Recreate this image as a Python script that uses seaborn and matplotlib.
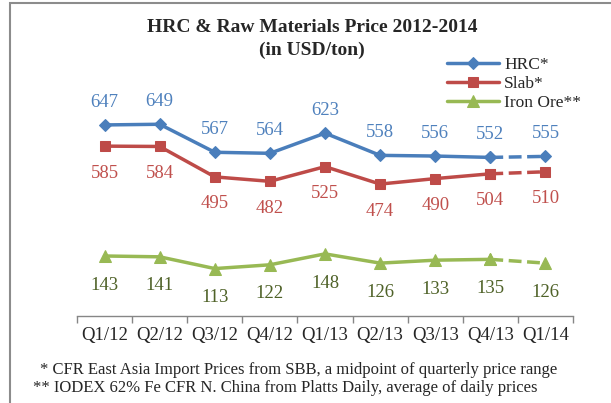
import pandas as pd
import matplotlib.pyplot as plt
import seaborn as sns
from matplotlib.patches import Rectangle

# quarterly prices, USD/ton
quarters = ["Q1/12", "Q2/12", "Q3/12", "Q4/12", "Q1/13", "Q2/13", "Q3/13", "Q4/13", "Q1/14"]
hrc = [647, 649, 567, 564, 623, 558, 556, 552, 555]
slab = [585, 584, 495, 482, 525, 474, 490, 504, 510]
iron_ore = [143, 141, 113, 122, 148, 126, 133, 135, 126]

sns.set_style("white")
plt.rcParams["font.family"] = ["Liberation Serif", "DejaVu Serif"]

df = pd.DataFrame({"x": range(len(quarters)), "Quarter": quarters,
                   "HRC*": hrc, "Slab*": slab, "Iron Ore**": iron_ore})

W, H = 611, 403
fig = plt.figure(figsize=(W / 100, H / 100), dpi=100)
ax = fig.add_axes([77 / W, 1 - 316 / H, 496 / W, 256 / H])
ax2 = ax.twinx()

# (column, axis, line colour, label colour, marker, marker size, label offset)
series = [
    ("HRC*", ax, "#4A7EBB", "#4F81BD", "D", 6.5, 16.5),
    ("Slab*", ax, "#BE4B48", "#C0504D", "s", 6.5, -19.5),
    ("Iron Ore**", ax2, "#98B954", "#4F6228", "^", 8, -21),
]

handles = []
for col, a, c, lc, m, ms, off in series:
    sns.lineplot(data=df.iloc[:8], x="x", y=col, ax=a, color=c, marker=m,
                 markersize=ms, markeredgecolor=c, linewidth=2.5, legend=False)
    handles.append(a.lines[-1])
    sns.lineplot(data=df.iloc[7:], x="x", y=col, ax=a, color=c, marker=m,
                 markersize=ms, markeredgecolor=c, linewidth=2.5,
                 linestyle="--", legend=False)
    for i, v in enumerate(df[col]):
        a.annotate(str(v), (i, v), xytext=(0, off), textcoords="offset points",
                   ha="center", va="center", color=lc, fontsize=13.5)

ax.set_ylim(88, 837)
ax2.set_ylim(0, 610)
ax.set_xlim(-0.5, 8.5)
ax.set_xticks(range(len(quarters)))
ax.set_xticklabels(quarters, fontsize=13.5)
ax.set_xticks([i - 0.5 for i in range(len(quarters) + 1)], minor=True)
ax.tick_params(axis="x", which="major", length=0, pad=8)
ax.tick_params(axis="x", which="minor", bottom=True, length=5, width=1,
               color="#868686", direction="out")
for a in (ax, ax2):
    a.set_yticks([])
    a.set_xlabel("")
    a.set_ylabel("")
    for s in ("top", "left", "right"):
        a.spines[s].set_visible(False)
ax.spines["bottom"].set_color("#868686")
ax.spines["bottom"].set_linewidth(1)
ax2.spines["bottom"].set_visible(False)

fig.legend(handles, ["HRC*", "Slab*", "Iron Ore**"], loc="upper left",
           bbox_to_anchor=(447 / W, 1 - 57 / H), frameon=False, fontsize=12.5,
           handlelength=3.0, handletextpad=0.3, labelspacing=0.15,
           borderpad=0, borderaxespad=0)

fig.text(312 / W, 1 - 27 / H, "HRC & Raw Materials Price 2012-2014",
         ha="center", va="center", fontsize=14, fontweight="bold")
fig.text(312 / W, 1 - 50 / H, "(in USD/ton)", ha="center", va="center",
         fontsize=14, fontweight="bold")

fig.text(40 / W, 1 - 370 / H,
         "* CFR East Asia Import Prices from SBB, a midpoint of quarterly price range",
         ha="left", va="center", fontsize=12)
fig.text(33 / W, 1 - 388 / H,
         "** IODEX 62% Fe CFR N. China from Platts Daily, average of daily prices",
         ha="left", va="center", fontsize=12)

fig.add_artist(Rectangle((10 / W, -0.1), 1.2, 1.1 - 3 / H, transform=fig.transFigure,
                         facecolor="none", edgecolor="#8C8C8C", linewidth=1.5,
                         clip_on=False))

fig.savefig("out.png", dpi=100)
